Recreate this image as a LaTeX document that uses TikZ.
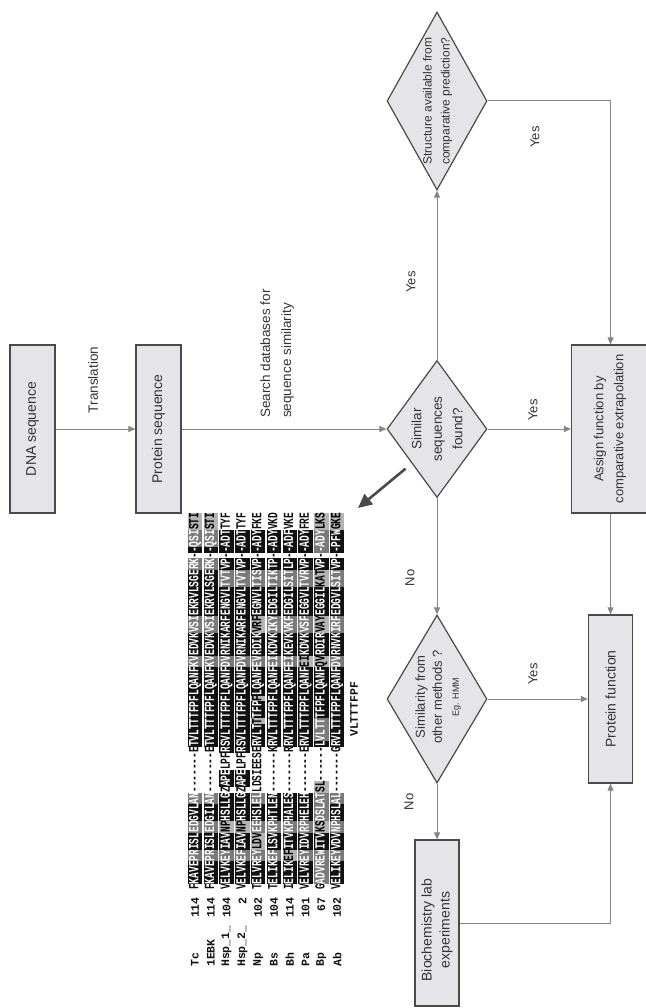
\documentclass[tikz,border=0pt]{standalone}
\usepackage{fontspec}
\setmainfont{Liberation Sans}
\setmonofont{Liberation Mono}
\usepackage{graphicx}
\usetikzlibrary{arrows.meta,shapes.geometric,calc}
\definecolor{boxfill}{HTML}{E4E4E9}
\definecolor{boxdraw}{HTML}{4A4A4A}
\definecolor{linec}{HTML}{858585}
\definecolor{txt}{HTML}{333333}
\definecolor{agray}{HTML}{7A7A7A}
\definecolor{alight}{HTML}{B4B4B4}
\definecolor{ablack}{HTML}{111111}
\newcommand\abox[3]{{\setlength{\fboxsep}{0pt}\colorbox{#1}{\rule[-4pt]{0pt}{14.5pt}\textcolor{#2}{#3}}}}
\newcommand\aK[1]{\abox{ablack}{white}{#1}}
\newcommand\aG[1]{\abox{agray}{white}{#1}}
\newcommand\aL[1]{\abox{alight}{black}{#1}}
\newcommand\aP[1]{\textcolor{ablack}{#1}}
\tikzset{
  box/.style={rectangle, draw=boxdraw, line width=1.2pt, fill=boxfill, inner sep=0pt},
  dec/.style={diamond, draw=boxdraw, line width=1.2pt, fill=boxfill, inner sep=0pt},
  conn/.style={draw=linec, line width=1pt, -{Triangle[length=7pt,width=6pt]}},
  bigarrow/.style={draw=boxdraw, line width=2.6pt, -{Triangle[length=14pt,width=13pt]}},
  btxt/.style={rotate=90, text=txt, align=center, inner sep=0pt},
  lbl/.style={rotate=90, text=txt, inner sep=0pt, font=\fontsize{13}{15}\selectfont},
  aseq/.style={rotate=90, anchor=west, inner sep=0pt, font=\ttfamily\bfseries\fontsize{14}{14}\selectfont},
  atag/.style={rotate=90, inner sep=0pt, text=ablack, font=\ttfamily\bfseries\fontsize{11.5}{11.5}\selectfont}
}
\begin{document}
\begin{tikzpicture}[x=1pt, y=-1pt]
\useasboundingbox (0,0) rectangle (645,1008);

% ---- process boxes
\node[box, minimum width=45pt, minimum height=168pt] (dna) at (32.5,429) {};
\node[btxt, font=\fontsize{14}{17}\selectfont] (dnat) at (dna) {DNA sequence};
\node[box, minimum width=45pt, minimum height=168pt] (prot) at (158.5,429) {};
\node[btxt, font=\fontsize{14}{17}\selectfont] (prott) at (prot) {Protein sequence};
\node[box, minimum width=78pt, minimum height=168pt] (assign) at (610.5,429) {};
\node[btxt, font=\fontsize{13}{20}\selectfont] (assignt) at (610,429) {Assign function by\\comparative extrapolation};
\node[box, minimum width=44pt, minimum height=168pt] (pfun) at (610.5,699) {};
\node[btxt, font=\fontsize{14}{17}\selectfont] (pfunt) at (pfun) {Protein function};
\node[box, minimum width=44pt, minimum height=166pt] (bio) at (437,923) {};
\node[btxt, font=\fontsize{14}{18}\selectfont] (biot) at (437,930) {Biochemistry lab\\experiments};

% ---- decisions
\node[dec, minimum width=100pt, minimum height=137pt] (sim) at (437,429) {};
\node[btxt, font=\fontsize{13.5}{20.5}\selectfont] (simt) at (437,429) {Similar\\sequences\\found?};
\node[dec, minimum width=100pt, minimum height=178pt] (struct) at (437,101) {};
\node[btxt, font=\fontsize{12}{18}\selectfont] (structt) at (437.5,101) {Structure available from\\comparative prediction?};
\node[dec, minimum width=100pt, minimum height=168pt] (simo) at (437,699) {};
\node[btxt, font=\fontsize{13}{17}\selectfont] (simot) at (438,697) {Similarity from\\other methods ?\\{\fontsize{9}{12}\selectfont Eg. HMM}};

% ---- edge labels
\node[btxt, font=\fontsize{13.5}{16}\selectfont] (translt) at (93,380) {Translation};
\node[btxt, align=left, anchor=south west, font=\fontsize{13.5}{21}\selectfont] (searcht) at (294,418) {Search databases for\\sequence similarity};
\node[lbl] (yes1) at (411,282) {Yes};
\node[lbl] (yes2) at (535,137) {Yes};
\node[lbl] (yes3) at (533,410) {Yes};
\node[lbl] (no1) at (410,578) {No};
\node[lbl] (yes4) at (533,674) {Yes};
\node[lbl] (no2) at (409,802) {No};

% ---- connectors
\draw[conn] (dna) -- (prot);
\draw[conn] (prot) -- (sim);
\draw[conn] (sim) -- (struct);
\draw[conn] (struct.east) -| (assign.north);
\draw[conn] (sim) -- (assign);
\draw[conn] (assign) -- (pfun);
\draw[conn] (sim) -- (simo);
\draw[conn] (simo) -- (pfun);
\draw[conn] (simo) -- (bio);
\draw[conn] (bio.east) -| (pfun.south);
\coordinate (alnptr) at (358,508);
\draw[bigarrow, shorten <=8pt] (sim.south west) -- (alnptr);

% ---- alignment
\foreach \i/\lab/\num in {0/Tc/114, 1/1EBK/114, 2/Hsp\_1\_/104, 3/Hsp\_2\_/2, 4/Np/102, 5/Bs/104, 6/Bh/114, 7/Pa/101, 8/Bp/67, 9/Ab/102}{
  \node[atag, anchor=west] (lab\i) at (195+15.8*\i, 967) {\lab};
  \node[atag, anchor=east] (num\i) at (195+15.8*\i, 897) {\num};
}
\node[aseq] (seq0) at (195,890) {\scalebox{0.68}[1]{\aP{F}\aK{KAVE}\aG{PR}\aK{ISL}\aG{ED}\aK{GVL}\aG{AN}\aP{-------}\aP{E}\aK{T}\aK{VLTTTFPFLQANF}\aG{KV}\aK{EDVK}\aG{VSI}\aK{EKRVL}\aK{SGE}\aG{RK}\aP{-}\aK{-}\aG{QSI}\aL{STI}}};
\node[aseq] (seq1) at (210.8,890) {\scalebox{0.68}[1]{\aP{F}\aK{KAVE}\aG{PR}\aK{ISL}\aG{ED}\aK{GIL}\aG{AN}\aP{-------}\aP{E}\aK{T}\aK{VLTTTFPFLQANF}\aG{KV}\aK{EDVK}\aG{VSI}\aK{EKRVL}\aK{SGE}\aG{RK}\aP{-}\aK{-}\aG{QSI}\aL{STI}}};
\node[aseq] (seq2) at (226.6,890) {\scalebox{0.68}[1]{\aP{V}\aK{ELVK}\aG{EY}\aK{IAV}\aL{NP}\aK{HSL}\aK{LG}\aP{Z}\aK{APE}\aP{LPF}\aK{R}\aK{S}\aK{VLTTTFPFLQANF}\aG{DV}\aK{RNIK}\aK{ARF}\aK{ENGVL}\aG{TVT}\aK{VP}\aP{-}\aK{-ADT}\aP{TYF}}};
\node[aseq] (seq3) at (242.4,890) {\scalebox{0.68}[1]{\aP{V}\aK{ELVK}\aG{EF}\aK{IAV}\aL{NP}\aK{HSL}\aK{LG}\aP{Z}\aK{APE}\aP{LPF}\aK{R}\aK{S}\aK{VLTTTFPFLQANF}\aG{DV}\aK{RNIK}\aK{ARF}\aK{ENGVL}\aG{TVT}\aK{VP}\aP{-}\aK{-ADT}\aP{TYF}}};
\node[aseq] (seq4) at (258.2,890) {\scalebox{0.68}[1]{\aP{T}\aK{ELVR}\aG{EY}\aL{LDV}\aG{EE}\aK{HSL}\aG{EL}\aP{LDSIEES}\aP{E}\aK{R}\aK{VLT}\aL{T}\aK{TFP}\aL{F}\aK{LQANF}\aG{EV}\aK{RDIK}\aL{VRF}\aK{EGNVL}\aG{TIS}\aK{VP}\aP{-}\aK{-ADY}\aP{FKE}}};
\node[aseq] (seq5) at (274,890) {\scalebox{0.68}[1]{\aP{T}\aK{ELIK}\aG{EF}\aK{LSV}\aG{KP}\aK{HTL}\aK{EN}\aP{-------}\aP{K}\aK{R}\aK{VLTTTFPFLQANF}\aG{EI}\aK{KDVK}\aG{IKY}\aK{EDGIL}\aG{TIK}\aK{TP}\aP{-}\aK{-ADY}\aP{VKD}}};
\node[aseq] (seq6) at (289.8,890) {\scalebox{0.68}[1]{\aP{I}\aK{ELIK}\aL{EF}\aK{ITV}\aG{KP}\aK{HAL}\aK{ES}\aP{-------}\aP{R}\aK{R}\aK{VLTTTFPFLQANF}\aG{EI}\aK{KEVK}\aG{VKF}\aK{EDGIL}\aG{SIT}\aK{LP}\aP{-}\aK{-ADF}\aP{VKE}}};
\node[aseq] (seq7) at (305.6,890) {\scalebox{0.68}[1]{\aP{V}\aK{ELVR}\aG{EY}\aK{IDV}\aG{RP}\aK{HEL}\aK{EH}\aP{-------}\aP{E}\aK{R}\aK{VLTTTFPFLQANF}\aL{EI}\aK{KDVK}\aG{VSF}\aK{EGGVL}\aG{TVR}\aK{VP}\aP{-}\aK{-ADY}\aP{FRE}}};
\node[aseq] (seq8) at (321.4,890) {\scalebox{0.68}[1]{\aP{G}\aG{ADVR}\aG{EW}\aK{ITV}\aL{KS}\aG{DSL}\aG{AT}\aL{SL}\aP{-----}\aP{-}\aK{L}\aG{VLTT}\aK{TFPFLQANF}\aL{QV}\aK{RDIR}\aL{VAY}\aK{EGGIL}\aL{KAT}\aK{VP}\aP{-}\aG{-ADY}\aL{LKS}}};
\node[aseq] (seq9) at (337.2,890) {\scalebox{0.68}[1]{\aP{V}\aK{ELIK}\aG{EY}\aK{VDV}\aG{NP}\aK{HSL}\aG{AL}\aP{-------}\aP{G}\aK{R}\aK{VLTTTFPFLQANF}\aG{DV}\aK{RNVK}\aG{IRF}\aK{EDGVL}\aG{SIT}\aK{VP}\aP{-}\aK{-PFW}\aL{GKE}}};
\node[atag, anchor=west] (cons) at (354,737) {VLTTTFPF};
\end{tikzpicture}
\end{document}
